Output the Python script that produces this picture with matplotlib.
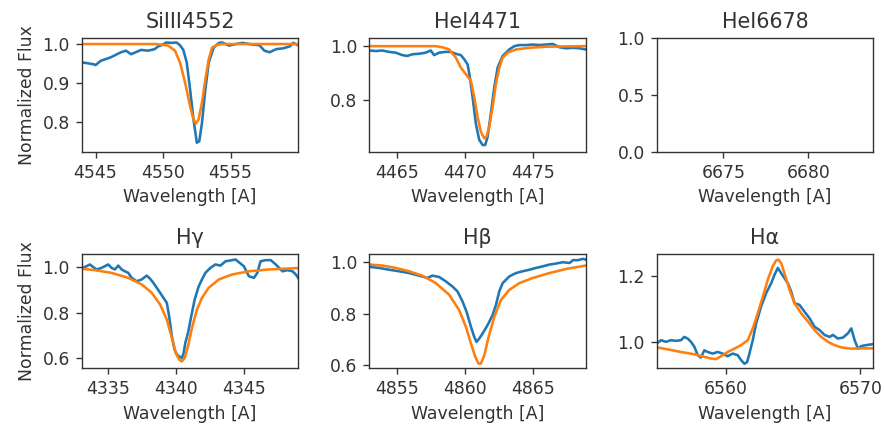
import matplotlib
matplotlib.use("Agg")
import matplotlib.pyplot as plt

titles = ["SiIII4552", "HeI4471", "HeI6678", "Hγ", "Hβ", "Hα"]

# SiIII 4552
si_obs_w = [4544.0, 4544.38, 4544.88, 4545.0, 4545.38, 4546.13, 4546.88, 4547.25, 4547.63, 4548.38,
            4548.88, 4549.38, 4549.63, 4549.88, 4550.25, 4550.63, 4551.0, 4551.25, 4551.5, 4551.75,
            4552.0, 4552.25, 4552.5, 4552.68, 4552.88, 4553.13, 4553.38, 4553.75, 4554.13, 4554.38,
            4554.88, 4555.38, 4555.88, 4556.38, 4557.13, 4557.5, 4557.88, 4558.38, 4558.88, 4559.38,
            4559.63, 4560.0]
si_obs_f = [0.953, 0.951, 0.948, 0.946, 0.957, 0.966, 0.979, 0.983, 0.974, 0.985,
            0.983, 0.987, 0.994, 0.997, 1.004, 1.003, 1.004, 0.997, 0.985, 0.953,
            0.884, 0.807, 0.747, 0.751, 0.798, 0.884, 0.953, 0.991, 1.003, 1.004,
            0.996, 1.0, 1.003, 1.0, 0.997, 0.983, 0.979, 0.987, 0.989, 0.994,
            1.003, 0.997]
si_mod_w = [4544.0, 4549.5, 4550.38, 4550.88, 4551.25, 4551.63, 4552.0, 4552.25, 4552.43, 4552.63,
            4552.88, 4553.13, 4553.38, 4553.63, 4554.0, 4554.38, 4560.0]
si_mod_f = [1.0, 1.0, 0.996, 0.983, 0.953, 0.901, 0.841, 0.807, 0.796, 0.807,
            0.85, 0.91, 0.961, 0.991, 0.998, 1.0, 1.0]

# HeI 4471
he_obs_w = [4462.95, 4463.4, 4463.89, 4464.38, 4464.88, 4465.37, 4465.74, 4466.11, 4466.6, 4467.1,
            4467.47, 4467.72, 4468.09, 4468.58, 4468.95, 4469.32, 4469.69, 4469.94, 4470.19, 4470.36,
            4470.56, 4470.8, 4471.05, 4471.3, 4471.49, 4471.67, 4471.91, 4472.16, 4472.41, 4472.78,
            4473.27, 4473.64, 4474.01, 4474.51, 4475.0, 4475.49, 4475.99, 4476.48, 4476.98, 4477.47,
            4477.96, 4478.46, 4478.9]
he_obs_f = [0.984, 0.982, 0.984, 0.979, 0.976, 0.967, 0.964, 0.970, 0.972, 0.976,
            0.984, 0.967, 0.976, 0.979, 0.979, 0.972, 0.967, 0.952, 0.933, 0.885,
            0.812, 0.715, 0.655, 0.636, 0.636, 0.667, 0.752, 0.848, 0.921, 0.964,
            0.988, 1.0, 1.004, 1.004, 1.006, 1.004, 1.006, 1.008, 0.996, 0.992,
            0.994, 0.992, 0.988]
he_mod_w = [4462.95, 4467.84, 4468.33, 4468.83, 4469.32, 4469.69, 4470.06, 4470.43, 4470.68, 4470.93,
            4471.17, 4471.42, 4471.59, 4471.79, 4472.04, 4472.28, 4472.53, 4472.78, 4473.15, 4473.77,
            4474.75, 4475.99, 4477.2, 4478.9]
he_mod_f = [1.0, 1.0, 0.996, 0.988, 0.958, 0.921, 0.897, 0.873, 0.812, 0.739,
            0.685, 0.661, 0.667, 0.703, 0.776, 0.861, 0.921, 0.958, 0.976, 0.988,
            0.994, 0.998, 0.999, 1.0]

# H gamma
hg_obs_w = [4333.07, 4333.4, 4333.64, 4333.89, 4334.14, 4334.51, 4335.0, 4335.25, 4335.49, 4335.74,
            4335.99, 4336.23, 4336.48, 4336.73, 4337.1, 4337.47, 4337.84, 4338.09, 4338.33, 4338.58,
            4338.83, 4339.07, 4339.32, 4339.49, 4339.69, 4339.89, 4340.06, 4340.23, 4340.43, 4340.56,
            4340.68, 4340.88, 4341.12, 4341.37, 4341.67, 4341.91, 4342.16, 4342.53, 4342.9, 4343.27,
            4343.64, 4344.14, 4344.38, 4344.63, 4345.0, 4345.37, 4345.74, 4345.99, 4346.23, 4346.6,
            4346.98, 4347.35, 4347.84, 4348.21, 4348.58, 4348.83, 4349.0]
hg_obs_f = [0.997, 1.004, 1.012, 1.001, 0.990, 0.997, 1.012, 0.997, 0.990, 1.007,
            0.990, 0.982, 0.975, 0.953, 0.938, 0.946, 0.963, 0.949, 0.931, 0.909,
            0.887, 0.865, 0.843, 0.784, 0.696, 0.637, 0.615, 0.607, 0.600, 0.622,
            0.666, 0.710, 0.784, 0.857, 0.916, 0.946, 0.975, 0.997, 1.012, 1.007,
            1.026, 1.031, 1.034, 1.022, 1.004, 0.960, 0.953, 0.975, 1.026, 1.031,
            1.031, 1.012, 0.982, 0.987, 0.982, 0.968, 0.953]
hg_mod_w = [4333.07, 4334.0, 4335.25, 4336.48, 4337.47, 4338.21, 4338.83, 4339.32, 4339.69, 4339.98,
            4340.23, 4340.43, 4340.63, 4340.88, 4341.17, 4341.54, 4341.91, 4342.4, 4343.15, 4344.14,
            4345.37, 4346.85, 4349.0]
hg_mod_f = [0.993, 0.987, 0.975, 0.953, 0.924, 0.887, 0.835, 0.769, 0.688, 0.622,
            0.593, 0.585, 0.600, 0.651, 0.732, 0.813, 0.865, 0.909, 0.946, 0.968,
            0.982, 0.990, 0.996]

# H beta
hb_obs_w = [4852.96, 4853.65, 4854.39, 4855.12, 4855.86, 4856.6, 4857.21, 4857.58, 4858.07, 4858.56,
            4859.05, 4859.42, 4859.79, 4860.09, 4860.41, 4860.65, 4860.82, 4861.02, 4861.27, 4861.63,
            4862.0, 4862.25, 4862.49, 4862.74, 4863.23, 4863.72, 4864.21, 4864.71, 4865.2, 4865.69,
            4866.18, 4866.67, 4867.16, 4867.65, 4867.9, 4868.27, 4868.64, 4868.83]
hb_obs_f = [0.982, 0.978, 0.971, 0.965, 0.958, 0.948, 0.939, 0.948, 0.943, 0.926,
            0.906, 0.887, 0.848, 0.808, 0.750, 0.711, 0.691, 0.704, 0.724, 0.756,
            0.795, 0.835, 0.887, 0.919, 0.945, 0.958, 0.965, 0.971, 0.978, 0.984,
            0.991, 0.995, 1.0, 0.997, 1.008, 1.008, 1.013, 1.010]
hb_mod_w = [4852.96, 4853.92, 4854.88, 4855.86, 4856.84, 4857.83, 4858.81, 4859.54, 4860.04, 4860.41,
            4860.73, 4860.97, 4861.14, 4861.39, 4861.71, 4862.13, 4862.62, 4863.23, 4863.97, 4864.95,
            4866.18, 4867.41, 4868.83]
hb_mod_f = [0.991, 0.987, 0.978, 0.965, 0.948, 0.919, 0.874, 0.815, 0.750, 0.685,
            0.633, 0.607, 0.607, 0.639, 0.711, 0.789, 0.854, 0.893, 0.919, 0.939,
            0.958, 0.974, 0.987]

# H alpha
ha_obs_w = [6554.85, 6555.15, 6555.52, 6555.9, 6556.27, 6556.64, 6556.89, 6557.14, 6557.39, 6557.64,
            6557.89, 6558.13, 6558.38, 6558.63, 6559.0, 6559.38, 6559.75, 6560.12, 6560.5, 6560.87,
            6561.12, 6561.37, 6561.57, 6561.74, 6561.99, 6562.24, 6562.61, 6562.99, 6563.36, 6563.61,
            6563.86, 6564.1, 6564.35, 6564.6, 6564.85, 6565.1, 6565.47, 6565.85, 6566.22, 6566.59,
            6566.97, 6567.34, 6567.71, 6567.96, 6568.33, 6568.71, 6569.08, 6569.33, 6569.58, 6569.83,
            6570.07, 6570.45, 6570.95]
ha_obs_f = [0.995, 1.005, 1.0, 1.005, 1.003, 1.005, 1.015, 1.010, 1.0, 0.985,
            0.959, 0.952, 0.974, 0.969, 0.964, 0.969, 0.964, 0.956, 0.964, 0.959,
            0.944, 0.933, 0.938, 0.964, 1.005, 1.056, 1.108, 1.149, 1.179, 1.205,
            1.226, 1.210, 1.195, 1.179, 1.154, 1.118, 1.113, 1.092, 1.072, 1.046,
            1.036, 1.021, 1.015, 1.021, 1.010, 1.013, 1.026, 1.041, 1.005, 0.979,
            0.987, 0.990, 0.993]
ha_mod_w = [6554.85, 6555.65, 6556.64, 6557.64, 6558.38, 6558.88, 6559.25, 6559.63, 6560.12, 6560.62,
            6561.12, 6561.62, 6561.99, 6562.36, 6562.74, 6563.11, 6563.48, 6563.73, 6563.91, 6564.1,
            6564.35, 6564.73, 6565.1, 6565.6, 6566.1, 6566.59, 6567.09, 6567.59, 6568.08, 6568.58,
            6569.33, 6570.07, 6570.95]
ha_mod_f = [0.983, 0.977, 0.969, 0.962, 0.954, 0.949, 0.947, 0.956, 0.969, 0.979,
            0.990, 1.005, 1.041, 1.087, 1.138, 1.190, 1.231, 1.249, 1.251, 1.241,
            1.210, 1.159, 1.118, 1.087, 1.062, 1.036, 1.015, 1.0, 0.990, 0.983,
            0.979, 0.980, 0.980]

xlims = [(4544.0, 4560.0), (4462.95, 4478.9), (6671.1, 6683.8),
         (4333.07, 4349.0), (4852.96, 4868.83), (6554.85, 6570.95)]
ylims = [(0.7245, 1.0155), (0.612, 1.03), (0.0, 1.0),
         (0.556, 1.056), (0.59, 1.03), (0.92, 1.267)]
xticks = [[4545, 4550, 4555], [4465, 4470, 4475], [6675, 6680],
          [4335, 4340, 4345], [4855, 4860, 4865], [6560, 6570]]
yticks = [[0.8, 0.9, 1.0], [0.8, 1.0], [0.0, 0.5, 1.0],
          [0.6, 0.8, 1.0], [0.6, 0.8, 1.0], [1.0, 1.2]]

series = [(si_obs_w, si_obs_f, si_mod_w, si_mod_f),
          (he_obs_w, he_obs_f, he_mod_w, he_mod_f),
          None,
          (hg_obs_w, hg_obs_f, hg_mod_w, hg_mod_f),
          (hb_obs_w, hb_obs_f, hb_mod_w, hb_mod_f),
          (ha_obs_w, ha_obs_f, ha_mod_w, ha_mod_f)]

s = 1.24
plt.rcParams.update({
    "font.size": 10 * s,
    "lines.linewidth": 1.5 * s,
    "axes.linewidth": 0.8 * s,
    "axes.edgecolor": "#333333",
    "xtick.major.size": 3.5 * s,
    "ytick.major.size": 3.5 * s,
    "xtick.major.width": 0.8 * s,
    "ytick.major.width": 0.8 * s,
    "xtick.major.pad": 3.5 * s,
    "ytick.major.pad": 3.5 * s,
    "axes.titlepad": 6 * s,
    "axes.labelpad": 4 * s,
    "xtick.color": "#333333",
    "ytick.color": "#333333",
    "text.color": "#333333",
    "axes.labelcolor": "#333333",
})

fig, axes = plt.subplots(2, 3, figsize=(8.84, 4.29), dpi=100)
fig.subplots_adjust(left=0.0928, right=0.9876, top=0.9114, bottom=0.1422,
                    wspace=0.33, hspace=0.907)

for i, ax in enumerate(axes.flat):
    sr = series[i]
    if sr is not None:
        ax.plot(sr[0], sr[1], color="#1f77b4")
        ax.plot(sr[2], sr[3], color="#ff7f0e")
    ax.set_xlim(*xlims[i])
    ax.set_ylim(*ylims[i])
    ax.set_xticks(xticks[i])
    ax.set_yticks(yticks[i])
    ax.set_title(titles[i], fontsize=12 * s)
    ax.set_xlabel("Wavelength [A]")
    if i % 3 == 0:
        ax.set_ylabel("Normalized Flux")

fig.savefig("out.png", dpi=100)
